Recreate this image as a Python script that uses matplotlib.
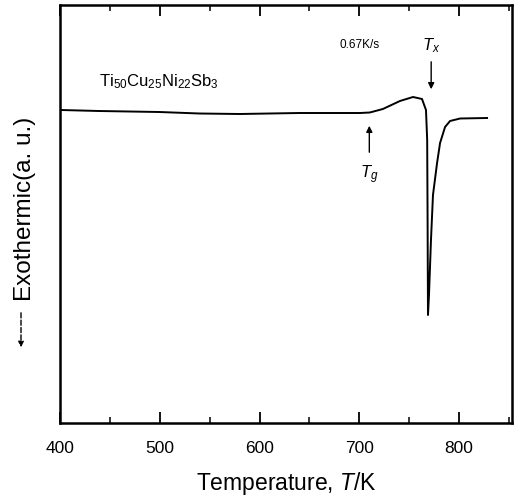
import matplotlib
matplotlib.use("Agg")
import matplotlib.pyplot as plt
from matplotlib.ticker import MultipleLocator

plt.rcParams['font.family'] = ['Liberation Sans', 'DejaVu Sans']
plt.rcParams['mathtext.fontset'] = 'custom'
plt.rcParams['mathtext.rm'] = 'Liberation Sans'
plt.rcParams['mathtext.it'] = 'Liberation Sans:italic'

# DSC trace (temperature in K, heat flow in arbitrary units)
temperature = [401, 439, 499.5, 539.7, 580, 640, 700.5, 710.5, 723.6, 740.7, 753.8,
               762.8, 766.8, 768.0, 768.4, 768.8, 769.8, 771.8, 773.8, 777.9, 780.9,
               785.9, 790.9, 801, 828]
heat_flow = [313, 312, 311, 309.5, 309, 310, 310, 310.5, 314, 322, 326,
             324, 313, 283, 203, 108, 128, 183, 228, 260, 280,
             296, 302, 304.5, 305]

x_ticks = [400, 500, 600, 700, 800]
Tg = 710
Tx = 772

fig = plt.figure(figsize=(5.23, 4.96), dpi=100)
ax = fig.add_axes([60/523, 1-423/496, 452/523, 418/496])
ax.plot(temperature, heat_flow, color='black', lw=1.4)
ax.set_xlim(400, 853)
ax.set_ylim(0, 418)
ax.set_xticks(x_ticks)
ax.xaxis.set_minor_locator(MultipleLocator(50))
ax.set_yticks([])
ax.tick_params(axis='x', which='major', direction='in', length=8, width=1.3,
               top=True, labelsize=12.5, pad=13)
ax.tick_params(axis='x', which='minor', direction='in', length=4, width=1.1, top=True)
for s in ax.spines.values():
    s.set_linewidth(1.8)

ax.set_xlabel('Temperature, $T$/K', fontsize=16.5, labelpad=10)

# annotations
ax.annotate('', xy=(Tg, 300), xytext=(Tg, 268),
            arrowprops=dict(arrowstyle='-|>', color='black', lw=1.0, mutation_scale=9))
ax.text(Tg, 248, '$T_g$', ha='center', va='center', fontsize=12)
ax.annotate('', xy=(Tx, 331), xytext=(Tx, 364),
            arrowprops=dict(arrowstyle='-|>', color='black', lw=1.0, mutation_scale=9))
ax.text(Tx, 377, '$T_x$', ha='center', va='center', fontsize=12)
ax.text(700, 378, '0.67K/s', ha='center', va='center', fontsize=8.5)
ax.text(499, 341, 'Ti$_{50}$Cu$_{25}$Ni$_{22}$Sb$_3$', ha='center', va='center', fontsize=12)

# y label with dashed arrow
fig.text(25/523, 1-209/496, 'Exothermic(a. u.)', rotation=90, ha='center', va='center',
         fontsize=17.5)
ax.annotate('', xy=(21/523, 1-350/496), xytext=(21/523, 1-310/496),
            xycoords='figure fraction', textcoords='figure fraction',
            arrowprops=dict(arrowstyle='-|>', color='black', lw=1.0, ls='--',
                            mutation_scale=8))

fig.savefig('out.png', dpi=100)
